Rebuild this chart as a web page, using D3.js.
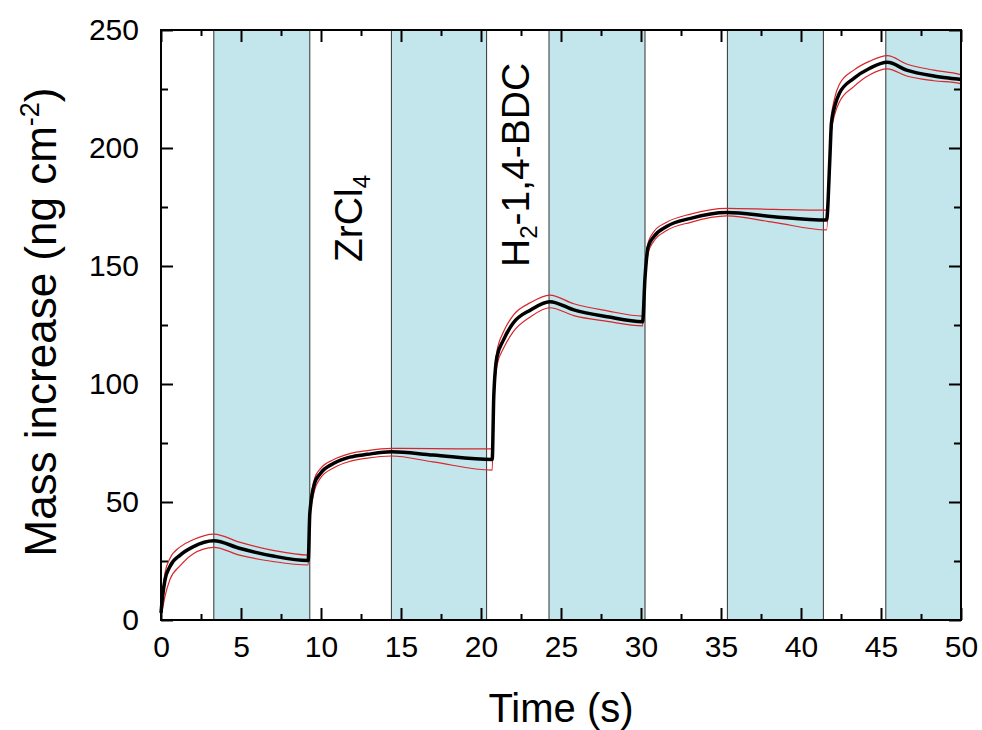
<!DOCTYPE html>
<html>
  <head>
    <meta charset="utf-8">
    <title></title>
  </head>
  <style>
  body{
      font-family: "Liberation Sans", Arial, sans-serif;
      background-color: #fff;
      margin:0;
      padding:0
    }
    .axis path { display: none; }
    .axis .tick line { stroke: #000; stroke-width: 2 }
    .axis .tick text { font-size: 30px; fill: #000; font-family: "Liberation Sans", Arial, sans-serif }
  </style>
  <script src="https://d3js.org/d3.v7.min.js"></script>
  <body>
    <script>
    // time (s) and mass increase (ng cm^-2)
    var time  = [0, 0.1, 0.25, 0.55, 1.2, 2.0, 3.3, 4.9, 7.0, 9.2,
                 9.3, 9.6, 9.95, 10.8, 11.8, 12.9, 14.4, 17.0, 20.7,
                 20.8, 21.0, 21.4, 22.0, 23.1, 24.3, 25.8, 27.9, 30.1,
                 30.25, 30.45, 30.8, 31.6, 33.1, 35.35, 38.3, 41.6,
                 41.8, 41.9, 42.1, 42.4, 43.3, 44.3, 45.4, 46.6, 48.3, 49.9, 50]
    var mean  = [3, 10, 17, 22.6, 27.5, 31, 33.6, 30.4, 27.1, 25.2,
                 45, 58, 62, 66.4, 69, 70.2, 71.3, 69.9, 68,
                 95, 111.6, 118.6, 125.7, 131.4, 134.9, 131.4, 128.5, 126.4,
                 145, 158.2, 162.4, 166.7, 170.2, 172.7, 170.9, 169.5,
                 195, 210.5, 217.5, 223.2, 229.5, 233.8, 236.3, 233, 230.5, 229.1, 229]
    var upper = [3, 12, 20, 26, 31, 34, 36.4, 33, 29.5, 27.5,
                 46, 60, 64, 68, 70.5, 71.8, 72.7, 72.6, 72.5,
                 97, 114, 122, 129, 134.5, 137.7, 134, 131, 128.8,
                 147, 160, 164.5, 168.5, 172, 174.4, 174, 173.7,
                 197, 213, 221, 227, 233, 236.8, 239.1, 235.6, 233, 231.2, 231]
    var lower = [2, 5, 10, 17, 23, 28, 30.8, 27.5, 24.8, 23.3,
                 43, 55, 60, 64.5, 67.2, 68.6, 69.5, 67, 63.5,
                 92, 108, 115, 122, 128.5, 132.3, 129, 126.5, 124.6,
                 143, 155.5, 160.5, 165, 168.5, 171.2, 168.5, 165.3,
                 193, 207, 214, 219.5, 226, 231, 233.5, 230.5, 228.5, 227.4, 227]

    // purge periods (shaded)
    var purgeStart = [3.3, 14.4, 24.25, 35.4, 45.3]
    var purgeEnd   = [9.3, 20.35, 30.25, 41.4, 50]

    var xTicks = d3.range(0, 51, 5)
    var xMinor = d3.range(2.5, 50, 5)
    var yTicks = d3.range(0, 251, 50)
    var yMinor = d3.range(25, 250, 50)

    var width = 982, height = 730
    var padding = { left: 161, top: 30, right: 21, bottom: 110 }

    var svg = d3.select("body")
                .append("svg")
                .attr("width", width)
                .attr("height", height)

    var xScale = d3.scaleLinear().domain([0, 50]).range([padding.left, width - padding.right])
    var yScale = d3.scaleLinear().domain([0, 250]).range([height - padding.bottom, padding.top])

    var x0 = xScale(0), x1 = xScale(50), y0 = yScale(0), y1 = yScale(250)

    // shaded bands
    var bands = svg.append("g")
    bands.selectAll("rect")
         .data(purgeStart)
         .enter()
         .append("rect")
         .attr("x", function(d){ return xScale(d) })
         .attr("y", y1)
         .attr("width", function(d, i){ return xScale(purgeEnd[i]) - xScale(d) })
         .attr("height", y0 - y1)
         .attr("fill", "#c3e5ec")

    var edges = purgeStart.concat(purgeEnd.filter(function(d){ return d < 50 }))
    bands.selectAll("line")
         .data(edges)
         .enter()
         .append("line")
         .attr("x1", function(d){ return xScale(d) })
         .attr("x2", function(d){ return xScale(d) })
         .attr("y1", y1)
         .attr("y2", y0)
         .attr("stroke", "#333")
         .attr("stroke-width", 1)

    // axes (ticks inward, mirrored)
    svg.append("g").attr("class", "axis")
       .attr("transform", "translate(0," + y0 + ")")
       .call(d3.axisBottom(xScale).tickValues(xTicks).tickSize(-12).tickPadding(16))
    svg.append("g").attr("class", "axis")
       .attr("transform", "translate(0," + y0 + ")")
       .call(d3.axisBottom(xScale).tickValues(xMinor).tickSize(-6).tickFormat(""))
    svg.append("g").attr("class", "axis")
       .attr("transform", "translate(0," + y1 + ")")
       .call(d3.axisTop(xScale).tickValues(xTicks).tickSize(-12).tickFormat(""))
    svg.append("g").attr("class", "axis")
       .attr("transform", "translate(0," + y1 + ")")
       .call(d3.axisTop(xScale).tickValues(xMinor).tickSize(-6).tickFormat(""))

    svg.append("g").attr("class", "axis")
       .attr("transform", "translate(" + x0 + ",0)")
       .call(d3.axisLeft(yScale).tickValues(yTicks).tickSize(-12).tickPadding(22))
    svg.append("g").attr("class", "axis")
       .attr("transform", "translate(" + x0 + ",0)")
       .call(d3.axisLeft(yScale).tickValues(yMinor).tickSize(-7).tickFormat(""))
    svg.append("g").attr("class", "axis")
       .attr("transform", "translate(" + x1 + ",0)")
       .call(d3.axisRight(yScale).tickValues(yTicks).tickSize(-12).tickFormat(""))
    svg.append("g").attr("class", "axis")
       .attr("transform", "translate(" + x1 + ",0)")
       .call(d3.axisRight(yScale).tickValues(yMinor).tickSize(-7).tickFormat(""))

    // lines
    var line = function(vals){
      return d3.line()
               .x(function(d, i){ return xScale(time[i]) })
               .y(function(d){ return yScale(d) })
               .curve(d3.curveMonotoneX)(vals)
    }

    var lines = svg.append("g")
    lines.append("path").attr("d", line(upper))
         .attr("fill", "none").attr("stroke", "#d9262b").attr("stroke-width", 1.2)
    lines.append("path").attr("d", line(lower))
         .attr("fill", "none").attr("stroke", "#d9262b").attr("stroke-width", 1.2)
    lines.append("path").attr("d", line(mean))
         .attr("fill", "none").attr("stroke", "#000").attr("stroke-width", 3.5)

    // frame
    svg.append("rect")
       .attr("x", x0).attr("y", y1)
       .attr("width", x1 - x0).attr("height", y0 - y1)
       .attr("fill", "none").attr("stroke", "#000").attr("stroke-width", 2)

    // titles
    svg.append("text")
       .attr("x", (x0 + x1) / 2)
       .attr("y", 722)
       .attr("text-anchor", "middle")
       .attr("font-size", "40px")
       .text("Time (s)")

    var yt = svg.append("text")
       .attr("transform", "translate(56,322) rotate(-90)")
       .attr("text-anchor", "middle")
       .attr("font-size", "44px")
    yt.append("tspan").text("Mass increase (ng cm")
    yt.append("tspan").attr("font-size", "27px").attr("dy", "-17").text("-2")
    yt.append("tspan").attr("dy", "17").text(")")

    // precursor labels
    var zr = svg.append("text")
       .attr("transform", "translate(362,262) rotate(-90)")
       .attr("font-size", "39px")
    zr.append("tspan").text("ZrCl")
    zr.append("tspan").attr("font-size", "24px").attr("dy", "8").text("4")

    var bdc = svg.append("text")
       .attr("transform", "translate(529,267) rotate(-90)")
       .attr("font-size", "39px")
    bdc.append("tspan").text("H")
    bdc.append("tspan").attr("font-size", "24px").attr("dy", "8").text("2")
    bdc.append("tspan").attr("dy", "-8").text("-1,4-BDC")
    </script>
  </body>
</html>
